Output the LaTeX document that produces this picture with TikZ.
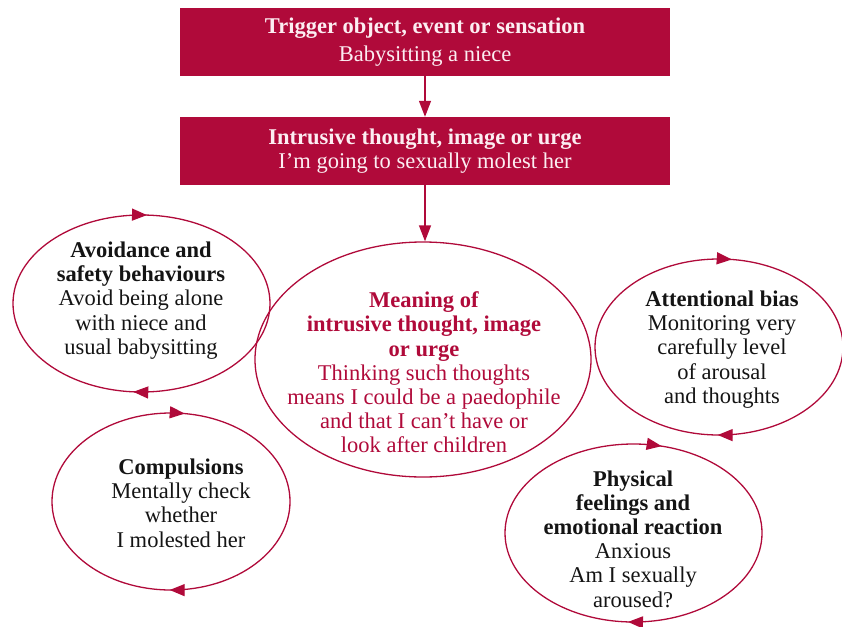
\documentclass[tikz,border=0pt]{standalone}
\usepackage{fontspec}
\setmainfont{Liberation Serif}
\usetikzlibrary{shapes.geometric,arrows.meta,decorations.markings}
\definecolor{crim}{RGB}{176,10,58}
\definecolor{boxtext}{RGB}{252,238,242}
\definecolor{ink}{RGB}{20,20,20}
\begin{document}
\begin{tikzpicture}[x=1pt,y=-1pt,
  font=\fontsize{22.5}{24.2}\selectfont,
  box/.style={fill=crim, draw=none, minimum width=490pt, minimum height=68pt,
    inner sep=0pt, text=boxtext, align=center},
  oval/.style={ellipse, draw=crim, color=crim, line width=1.3pt, inner sep=0pt},
  ovalsize/.style 2 args={minimum width=#1pt, minimum height=#2pt},
  cyc/.style 2 args={postaction={decorate, decoration={markings,
    mark=at position #1 with {\arrowreversed{Triangle[length=15pt,width=12pt]}},
    mark=at position #2 with {\arrowreversed{Triangle[length=15pt,width=12pt]}}}}},
  lbl/.style={align=center, text=ink},
  flow/.style={draw=crim, line width=1.3pt, -{Triangle[length=16pt,width=12pt]}}
]
\useasboundingbox (0,0) rectangle (842,626);

% top boxes
\node[box] (trig) at (425,42) {\textbf{Trigger object, event or sensation}\\[4pt]Babysitting a niece};
\node[box] (intr) at (425,151) {\textbf{Intrusive thought, image or urge}\\I’m going to sexually molest her};

% ellipses
\node[oval, ovalsize={336}{235}] (mean) at (423,359.5) {};
\node[oval, ovalsize={257}{177}, cyc={0.242}{0.738}] (avoid) at (141.5,303.5) {};
\node[oval, ovalsize={248}{176}, cyc={0.231}{0.748}] (attn) at (719,347) {};
\node[oval, ovalsize={238}{177}, cyc={0.229}{0.748}] (comp) at (171,501.5) {};
\node[oval, ovalsize={257}{178}, cyc={0.209}{0.742}] (phys) at (633.5,533) {};

% labels
\node[lbl, text=crim] (meant) at (424,372.5) {\textbf{Meaning of}\\\textbf{intrusive thought, image}\\\textbf{or urge}\\Thinking such thoughts\\means I could be a paedophile\\and that I can’t have or\\look after children};
\node[lbl] (avoidt) at (141,300.5) {\textbf{Avoidance and}\\\textbf{safety behaviours}\\Avoid being alone\\with niece and\\usual babysitting};
\node[lbl] (attnt) at (722,349.5) {\textbf{Attentional bias}\\Monitoring very\\carefully level\\of arousal\\and thoughts};
\node[lbl] (compt) at (181,503) {\textbf{Compulsions}\\Mentally check\\whether\\I molested her};
\node[lbl] (physt) at (633,539) {\textbf{Physical}\\\textbf{feelings and}\\\textbf{emotional reaction}\\Anxious\\Am I sexually\\aroused?};

% connectors
\draw[flow] (trig.south) -- (intr.north);
\draw[flow] (intr.south) -- (intr.south |- mean.north);
\end{tikzpicture}
\end{document}
